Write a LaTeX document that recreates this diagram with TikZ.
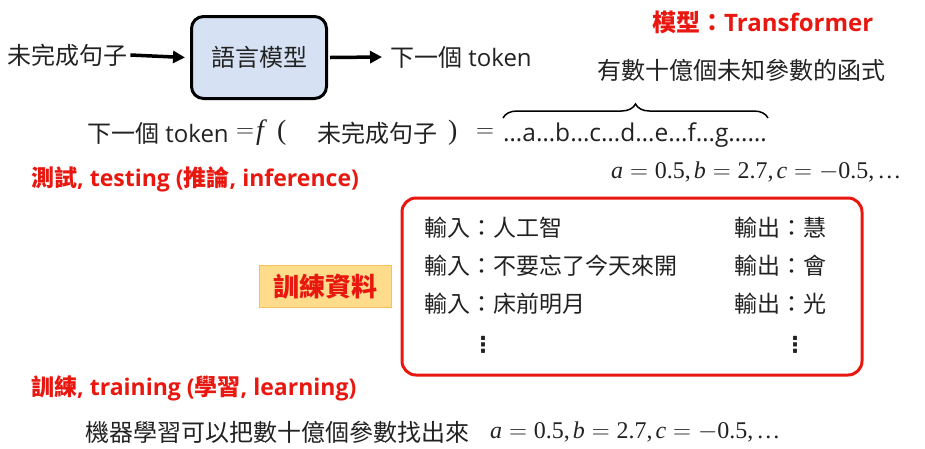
\documentclass[tikz,border=0pt]{standalone}
\usepackage{fontspec}
\setmainfont{Open Sans}
\newfontfamily\cjk{Noto Sans CJK TC}
\newfontfamily\mathserif{Liberation Serif}
\newfontfamily\symfont{DejaVu Sans}
\usetikzlibrary{arrows.meta,decorations.pathreplacing}
\definecolor{txt}{HTML}{222222}
\definecolor{hired}{HTML}{E8170F}
\definecolor{boxblue}{HTML}{D6E2F3}
\definecolor{datafill}{HTML}{FFDB8C}
\definecolor{dataedge}{HTML}{F3C35A}
\newcommand{\mvar}[1]{{\mathserif\itshape #1}}
\newcommand{\paramline}{\mvar{a}${}={}$0.5,\kern3pt\mvar{b}${}={}$2.7,\kern3pt\mvar{c}${}={}$$-$0.5,\kern3pt…}
\begin{document}
\begin{tikzpicture}[x=1pt,y=-1pt,
  lbl/.style={inner sep=0pt,anchor=west,text=txt,font=\fontsize{24}{28}\selectfont},
  redlbl/.style={inner sep=0pt,anchor=west,text=hired,font=\fontsize{23}{28}\selectfont\bfseries},
  rowlbl/.style={inner sep=0pt,anchor=west,text=txt,font=\fontsize{23}{28}\selectfont\cjk},
  mathlbl/.style={inner sep=0pt,anchor=west,text=txt,font=\fontsize{24}{28}\selectfont\mathserif},
  arr/.style={line width=3.5pt,-{Triangle[length=12pt,width=12pt]}},
  modelbox/.style={draw=black,line width=3pt,fill=boxblue,rounded corners=12pt,
    minimum width=135pt,minimum height=82pt,inner sep=0pt,text=txt,
    font=\fontsize{24}{28}\selectfont\cjk},
  databox/.style={draw=dataedge,line width=0.8pt,fill=datafill,minimum width=132pt,
    minimum height=42pt,inner sep=0pt,text=hired,font=\fontsize{26}{30}\selectfont\cjk\bfseries},
  vdotlbl/.style={inner sep=0pt,text=txt,font=\fontsize{22}{26}\selectfont\symfont\bfseries},
  bracestyle/.style={line width=1.5pt,decorate,decoration={brace,amplitude=14pt,aspect=0.5}}
]
\useasboundingbox (0,0) rectangle (925,448);
% top row
\node[lbl] (in) at (7,55) {\cjk 未完成句子};
\node[modelbox] (lm) at (259,57.5) {語言模型};
\node[lbl] (out) at (390,57) {{\cjk 下一個} token};
\draw[arr] ([xshift=3pt]in.east) -- ([xshift=-5pt]lm.west);
\draw[arr] ([xshift=2pt]lm.east) -- ([xshift=-8pt]out.west);
% red title
\node[redlbl,font=\fontsize{24}{28}\selectfont\bfseries] (tf) at (652,22) {{\cjk 模型：}Transformer};
\node[lbl] (desc) at (597,70) {\cjk 有數十億個未知參數的函式};
% equation line
\node[lbl] (eqa) at (87,133) {{\cjk 下一個} token};
\node[lbl] (eq1) at (236,133) {$=$};
\node[mathlbl,font=\fontsize{28}{32}\selectfont\mathserif] (ff) at (256,133) {\textit{f}\kern10pt(};
\node[lbl] (arg) at (317,133) {\cjk 未完成句子};
\node[mathlbl,font=\fontsize{28}{32}\selectfont\mathserif] (rp) at (448,133) {)};
\node[lbl] (eq2) at (476,133) {$=$};
\node[lbl,font=\fontsize{24.5}{28}\selectfont] (dots) at (503,135) {…a…b…c…d…e…f…g……};
\coordinate (bl) at (503,118);
\coordinate (br) at (768,118);
\draw[bracestyle] (bl) -- (br);
\node[mathlbl] (params) at (611,172) {\paramline};
% testing
\node[redlbl] (test) at (31,179) {{\cjk 測試}, testing ({\cjk 推論}, inference)};
% training data box
\node[databox] (data) at (325.5,286.5) {訓練資料};
\draw[hired,line width=3pt,rounded corners=14pt] (402,198) rectangle (862,375);
\node[rowlbl] (i1) at (424,228) {輸入：人工智};
\node[rowlbl] (i2) at (424,266) {輸入：不要忘了今天來開};
\node[rowlbl] (i3) at (424,304) {輸入：床前明月};
\node[rowlbl] (o1) at (734,228) {輸出：慧};
\node[rowlbl] (o2) at (734,266) {輸出：會};
\node[rowlbl] (o3) at (734,304) {輸出：光};
\node[vdotlbl] (d1) at (483,345) {⋮};
\node[vdotlbl] (d2) at (795,345) {⋮};
% training
\node[redlbl] (train) at (31,388) {{\cjk 訓練}, training ({\cjk 學習}, learning)};
\node[lbl] (ml) at (85,432) {\cjk 機器學習可以把數十億個參數找出來};
\node[mathlbl] (params2) at (490,432) {\paramline};
\end{tikzpicture}
\end{document}
